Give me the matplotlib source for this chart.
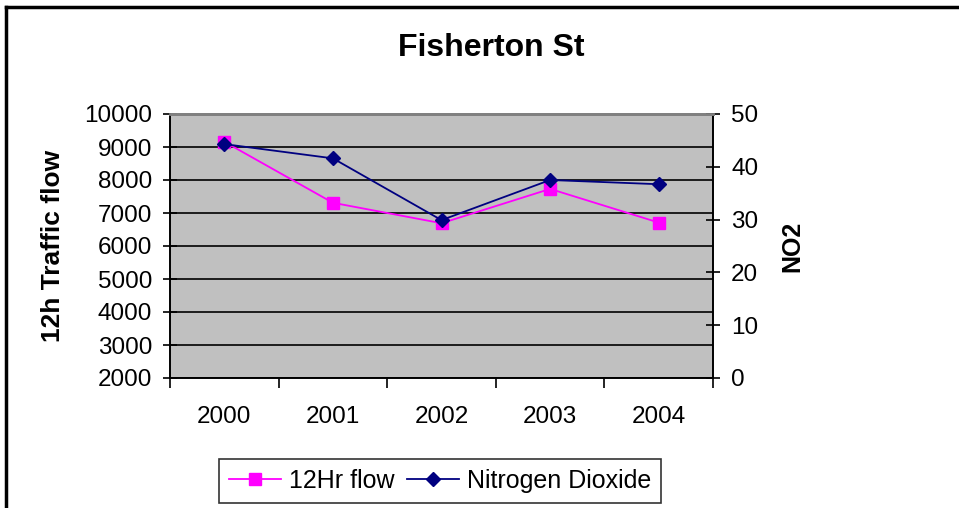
import numpy as np
import matplotlib.pyplot as plt
from matplotlib.lines import Line2D

plt.rcParams['font.family'] = ['Liberation Sans', 'DejaVu Sans']

years = ["2000", "2001", "2002", "2003", "2004"]
flow_12hr = [9160, 7310, 6690, 7730, 6710]
no2 = [44.3, 41.6, 29.9, 37.5, 36.7]

fig = plt.figure(figsize=(9.59, 5.08), dpi=100)
ax = fig.add_axes([170/959, 1-378/508, 543/959, 264/508])
ax2 = ax.twinx()

x = np.arange(len(years))
ax.set_facecolor("#C0C0C0")
ax.set_xlim(-0.5, len(years)-0.5)
ax.set_ylim(2000, 10000)
ax.set_yticks(range(2000, 10001, 1000))
ax.grid(axis="y", color="black", linewidth=1.2)
ax.set_axisbelow(True)

ax.plot(x, flow_12hr, color="#FF00FF", marker="s", markersize=8, linewidth=1.3, zorder=3)
ax2.plot(x, no2, color="#000080", marker="D", markersize=7.5, linewidth=1.3, zorder=3)
ax2.set_ylim(0, 50)
ax2.set_yticks(range(0, 51, 10))

# category labels in the middle, tick marks between categories
ax.set_xticks(x)
ax.set_xticklabels(years, fontsize=17.5)
ax.set_xticks(np.arange(-0.5, len(years), 1), minor=True)
ax.tick_params(axis="x", which="major", length=0, pad=20)
ax.tick_params(axis="x", which="minor", length=7, width=1.2, direction="out")
ax.tick_params(axis="y", direction="inout", length=10, width=1.2, labelsize=17.5, pad=8)
ax2.tick_params(axis="y", direction="inout", length=10, width=1.2, labelsize=17.5, pad=8)

for a in (ax, ax2):
    a.spines["top"].set_color("#808080")
    a.spines["top"].set_linewidth(2)
    for s in ("left", "right", "bottom"):
        a.spines[s].set_linewidth(1.2)

ax.set_ylabel("12h Traffic flow", fontsize=19, fontweight="bold", labelpad=14)
ax2.set_ylabel("NO2", fontsize=18, fontweight="bold", labelpad=16)
fig.text(0.512, 1-48/508, "Fisherton St", ha="center", va="center",
         fontsize=23, fontweight="bold")

handles = [
    Line2D([], [], color="#FF00FF", marker="s", markersize=8, linewidth=1.3),
    Line2D([], [], color="#000080", marker="D", markersize=7, linewidth=1.3),
]
leg = fig.legend(handles, ["12Hr flow", "Nitrogen Dioxide"], loc="center",
                 bbox_to_anchor=(440/959, 1-481/508), ncol=2, fontsize=18,
                 frameon=True, fancybox=False, handlelength=2.1, handletextpad=0.3,
                 columnspacing=0.5, borderpad=0.4, borderaxespad=0)
leg.get_frame().set_edgecolor("black")
leg.get_frame().set_linewidth(1.2)

# outer chart border (top and left edges visible)
fig.add_artist(Line2D([6/959, 1], [1-7/508, 1-7/508], color="black", linewidth=2.5))
fig.add_artist(Line2D([6/959, 6/959], [0, 1-7/508], color="black", linewidth=2.5))

fig.savefig("out.png", dpi=100)
